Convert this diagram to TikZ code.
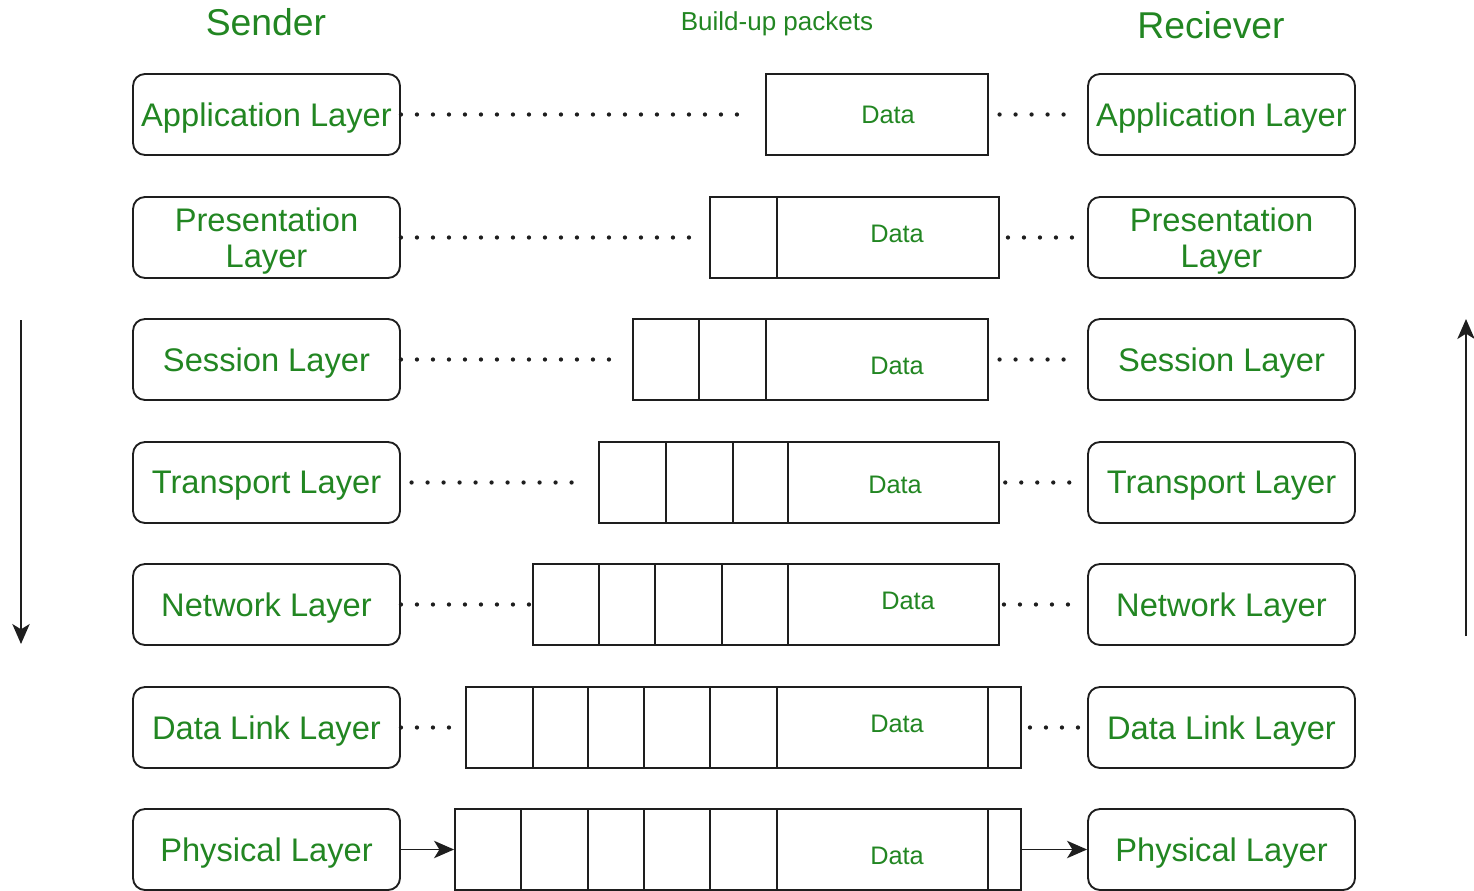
\documentclass[tikz,border=0pt]{standalone}
\usepackage{fontspec}
\setmainfont{Liberation Sans}
\usetikzlibrary{arrows.meta,fit,calc}
\definecolor{txtgreen}{RGB}{34,134,34}
\definecolor{edge}{RGB}{30,30,30}
\tikzset{
  layerbox/.style={draw=edge, line width=1.4pt, rounded corners=9pt, minimum width=200.25pt, minimum height=60.75pt, text=txtgreen, font=\fontsize{24.5}{27.5}\selectfont, align=center, inner sep=0pt, text depth=0pt},
  packet/.style={draw=edge, line width=1.4pt, inner sep=0pt},
  datalbl/.style={text=txtgreen, font=\fontsize{19}{22}\selectfont, inner sep=0pt},
  title/.style={text=txtgreen, inner sep=0pt},
  dots/.style={draw=edge, line width=3.2pt, line cap=round, dash pattern=on 0pt off 12pt},
  arr/.style={draw=edge, line width=1.4pt, -{Stealth[length=15pt,width=13pt,inset=4pt]}},
  divider/.style={draw=edge, line width=1.4pt}
}
\begin{document}
\begin{tikzpicture}[x=0.75pt,y=-0.75pt]
\useasboundingbox (0,0) rectangle (1474,891);
% titles
\node[title, font=\fontsize{28}{30}\selectfont] (tsend) at (266,22) {Sender};
\node[title, font=\fontsize{19.5}{22}\selectfont] (tbuild) at (777,24) {Build-up packets};
\node[title, font=\fontsize{28}{30}\selectfont] (trecv) at (1211,25) {Reciever};
% sender layers
\node[layerbox] (s1) at (266.5,114.5) {Application Layer};
\node[layerbox] (s2) at (266.5,237.5) {Presentation\\Layer};
\node[layerbox] (s3) at (266.5,359.5) {Session Layer};
\node[layerbox] (s4) at (266.5,482.5) {Transport Layer};
\node[layerbox] (s5) at (266.5,604.5) {Network Layer};
\node[layerbox] (s6) at (266.5,727.5) {Data Link Layer};
\node[layerbox] (s7) at (266.5,849.5) {Physical Layer};
% receiver layers
\node[layerbox] (r1) at (1221.5,114.5) {Application Layer};
\node[layerbox] (r2) at (1221.5,237.5) {Presentation\\Layer};
\node[layerbox] (r3) at (1221.5,359.5) {Session Layer};
\node[layerbox] (r4) at (1221.5,482.5) {Transport Layer};
\node[layerbox] (r5) at (1221.5,604.5) {Network Layer};
\node[layerbox] (r6) at (1221.5,727.5) {Data Link Layer};
\node[layerbox] (r7) at (1221.5,849.5) {Physical Layer};
% packets
\node[packet, fit={(766,74) (988,155)}] (p1) {};
\node[packet, fit={(710,197) (999,278)}] (p2) {};
\node[packet, fit={(633,319) (988,400)}] (p3) {};
\node[packet, fit={(599,442) (999,523)}] (p4) {};
\node[packet, fit={(533,564) (999,645)}] (p5) {};
\node[packet, fit={(466,687) (1021,768)}] (p6) {};
\node[packet, fit={(455,809) (1021,890)}] (p7) {};
% dividers
\draw[divider] (777,197) -- (777,278);
\foreach \x in {699,766} \draw[divider] (\x,319) -- (\x,400);
\foreach \x in {666,733,788} \draw[divider] (\x,442) -- (\x,523);
\foreach \x in {599,655,722,788} \draw[divider] (\x,564) -- (\x,645);
\foreach \x in {533,588,644,710,777,988} \draw[divider] (\x,687) -- (\x,768);
\foreach \x in {521,588,644,710,777,988} \draw[divider] (\x,809) -- (\x,890);
% data labels
\node[datalbl] (d1) at (888,115) {Data};
\node[datalbl] (d2) at (897,234) {Data};
\node[datalbl] (d3) at (897,366) {Data};
\node[datalbl] (d4) at (895,485) {Data};
\node[datalbl] (d5) at (908,601) {Data};
\node[datalbl] (d6) at (897,724) {Data};
\node[datalbl] (d7) at (897,856) {Data};
% dotted connectors
\draw[dots, shorten >=15pt] (s1.east) -- (p1.west);
\draw[dots, shorten <=8pt, shorten >=8pt] (p1.east) -- (r1.west);
\draw[dots, shorten >=15pt] (s2.east) -- (p2.west);
\draw[dots, shorten <=6pt, shorten >=4pt] (p2.east) -- (r2.west);
\draw[dots, shorten >=11pt] (s3.east) -- (p3.west);
\draw[dots, shorten <=8pt, shorten >=8pt] (p3.east) -- (r3.west);
\draw[dots, shorten <=8pt, shorten >=18pt] (s4.east) -- (p4.west);
\draw[dots, shorten <=4pt, shorten >=4pt] (p4.east) -- (r4.west);
\draw[dots, shorten >=2pt] (s5.east) -- (p5.west);
\draw[dots, shorten <=3pt, shorten >=4pt] (p5.east) -- (r5.west);
\draw[dots, shorten >=6pt] (s6.east) -- (p6.west);
\draw[dots, shorten <=6pt] (p6.east) -- (r6.west);
% physical arrows
\draw[arr] (s7.east) -- (p7.west);
\draw[arr] (p7.east) -- (r7.west);
% side arrows
\coordinate (la1) at (21,320);
\coordinate (la2) at (21,644);
\draw[arr] (la1) -- (la2);
\coordinate (ra1) at (1466,636);
\coordinate (ra2) at (1466,319);
\draw[arr] (ra1) -- (ra2);
\end{tikzpicture}
\end{document}
